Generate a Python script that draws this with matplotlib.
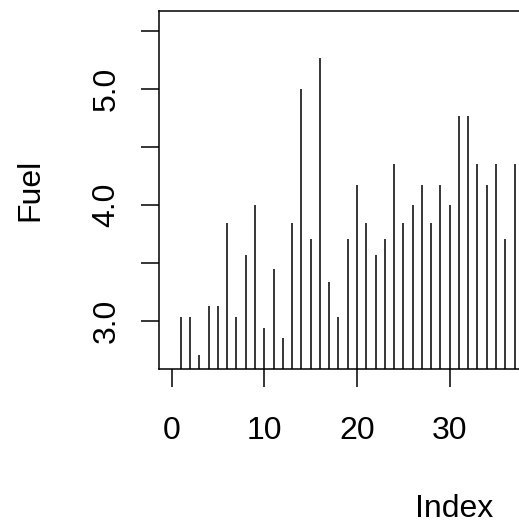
import matplotlib
matplotlib.use("Agg")
import matplotlib.pyplot as plt
import numpy as np

# --- Dados (Fuel, galões por 100 milhas) ---
mileage = [33, 33, 37, 32, 32, 26, 33, 28, 25, 34, 29, 35, 26, 20, 27, 19, 30, 33, 27, 24,
           26, 28, 27, 23, 26, 25, 24, 26, 24, 25, 21, 21, 23, 24, 23, 27, 23, 20, 21, 22,
           22, 21, 21, 23, 23, 21, 22, 21, 21, 23, 23, 18, 20, 18, 18, 18, 19, 20, 20, 19]
fuel = [round(100 / m, 3) for m in mileage]
indice = list(range(1, len(fuel) + 1))

y_ticks = [3.0, 3.5, 4.0, 4.5, 5.0, 5.5]
y_labels = ['3.0', '', '4.0', '', '5.0', '']
x_ticks = [0, 10, 20, 30]  # 40..60 ficam fora do recorte

plt.rcParams['font.family'] = ['Liberation Sans', 'DejaVu Sans']

fig = plt.figure(figsize=(5.19, 5.23), dpi=100)
# o painel continua além da borda direita (imagem recortada)
ax = fig.add_axes([159 / 519, 1 - 368.7 / 523, 590.6 / 519, 357.7 / 523])

ax.vlines(indice, 0, fuel, color='black', linewidth=1.1)

# limites no estilo R (4% de folga)
ymin, ymax = min(fuel), max(fuel)
dy = 0.04 * (ymax - ymin)
ax.set_ylim(ymin - dy, ymax + dy)
dx = 0.04 * (len(fuel) - 1)
ax.set_xlim(1 - dx, len(fuel) + dx)

ax.set_yticks(y_ticks)
ax.set_yticklabels(y_labels, rotation=90, va='center')
ax.set_xticks(x_ticks)

ax.tick_params(axis='both', length=13, width=1.1, labelsize=23, color='black')
ax.tick_params(axis='x', pad=21)
ax.tick_params(axis='y', pad=14)

for spine in ax.spines.values():
    spine.set_linewidth(1.1)

ax.set_ylabel('Fuel', fontsize=23)
ax.yaxis.set_label_coords(-(159 - 30) / 590.6, 0.5)
ax.yaxis.label.set_verticalalignment('center')

ax.set_xlabel('Index', fontsize=23)
ax.xaxis.set_label_coords(0.5, -(509 - 368.7) / 357.7)
ax.xaxis.label.set_verticalalignment('center')

fig.savefig('out.png', dpi=100)
